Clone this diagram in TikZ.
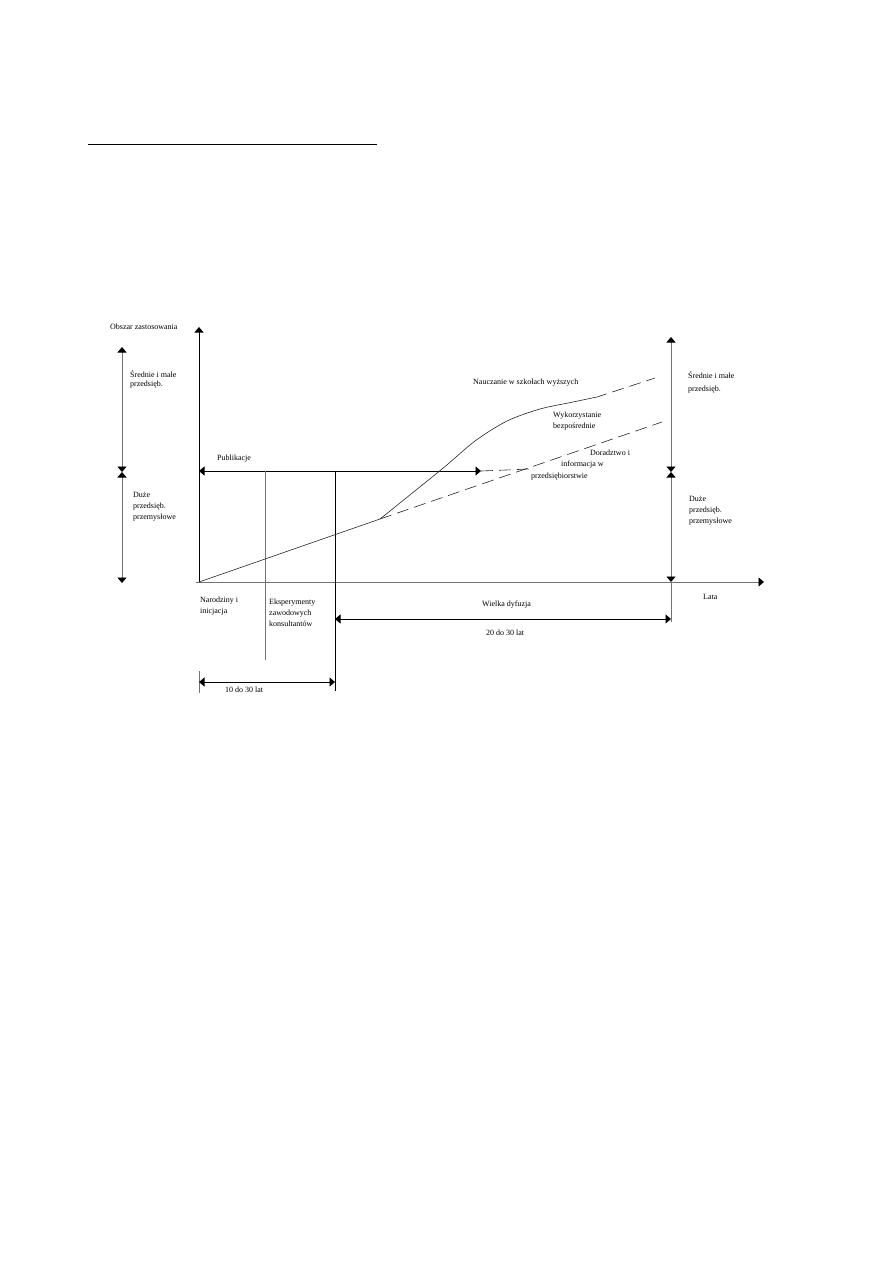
\documentclass[tikz,border=0pt]{standalone}
\usepackage{fontspec}
\setmainfont{Liberation Serif}
\usetikzlibrary{arrows.meta}
\begin{document}
\begin{tikzpicture}[x=1pt,y=-1pt,
  lbl/.style={anchor=west,inner sep=0pt,font=\fontsize{8}{11}\selectfont,align=left},
  tip/.style={-{Triangle[length=5.5pt,width=9pt,color=black]}},
  dtip/.style={{Triangle[length=5.5pt,width=9pt,color=black]}-{Triangle[length=5.5pt,width=9pt,color=black]}},
  grayline/.style={draw=black!55,line width=0.8pt},
  blackline/.style={draw=black,line width=0.9pt},
  thin/.style={draw=black!85,line width=0.6pt},
  dashline/.style={draw=black!85,line width=0.6pt,dash pattern=on 12pt off 6pt}]
\useasboundingbox (0,0) rectangle (893,1263);
% top rule
\coordinate (r1) at (88,144);
\coordinate (r2) at (377,144);
\draw[line width=1pt] (r1) -- (r2);
% axes
\coordinate (O) at (199,582);
\coordinate (ytop) at (199,327);
\coordinate (xend) at (764,582);
\draw[blackline,tip] (O) -- (ytop);
\draw[grayline,tip] (196,582) -- (xend);
% left double arrows
\coordinate (la) at (122,347);
\coordinate (lm) at (122,472);
\coordinate (lb) at (122,583);
\draw[grayline,dtip] (la) -- (lm);
\draw[grayline,dtip] (lm) -- (lb);
% right double arrows
\coordinate (ra) at (671,337);
\coordinate (rm) at (671,472);
\coordinate (rb) at (671,582);
\coordinate (rbot) at (671,622);
\draw[grayline,dtip] (ra) -- (rm);
\draw[grayline,dtip] (rm) -- (rb);
\draw[grayline] (rb) -- (rbot);
% Publikacje arrow
\coordinate (pa) at (199,471);
\coordinate (pb) at (481,471);
\coordinate (pc) at (530,469);
\draw[blackline,dtip] (pa) -- (pb);
\draw[dashline] (pb) -- (pc);
% verticals
\coordinate (g1) at (265,471);
\coordinate (g2) at (265,660);
\draw[grayline] (g1) -- (g2);
\coordinate (k1) at (335,471);
\coordinate (k2) at (335,691);
\draw[blackline] (k1) -- (k2);
% curves
\coordinate (split) at (380,519);
\coordinate (solidend) at (597,397);
\coordinate (nend) at (655,378);
\coordinate (dend) at (662,422);
\draw[thin] (O) -- (split);
\draw[thin] plot[smooth,tension=0.5] coordinates {(380,519) (442,469) (475,441) (507,421) (540,409) (573,402) (597,397)};
\draw[dashline,dash phase=2pt] (solidend) -- (nend);
\draw[dashline] (split) -- (dend);
% bottom arrows
\coordinate (w1) at (335,619);
\coordinate (w2) at (671,619);
\draw[blackline,dtip] (w1) -- (w2);
\coordinate (t1) at (199,682);
\coordinate (t2) at (335,682);
\coordinate (tk1) at (199,671);
\coordinate (tk2) at (199,693);
\draw[grayline] (tk1) -- (tk2);
\draw[blackline,dtip] (t1) -- (t2);
% labels
\node[lbl] (obszar) at (110,327) {Obszar zastosowania};
\node[lbl,anchor=north west] (lsm) at (130,370) {Średnie i małe\\[-1.5pt]przedsięb.};
\node[lbl,anchor=north west] (ldu) at (133,492) {Duże\\przedsięb.\\przemysłowe};
\node[lbl,anchor=north west] (rsm) at (688,371) {Średnie i małe\\[2pt]przedsięb.};
\node[lbl,anchor=north west] (rdu) at (689,496) {Duże\\przedsięb.\\przemysłowe};
\node[lbl] (lata) at (703,597) {Lata};
\node[lbl] (publ) at (217,459) {Publikacje};
\node[lbl] (nauk) at (473,383) {Nauczanie w szkołach wyższych};
\node[lbl,anchor=north west] (wyk) at (553,412) {Wykorzystanie\\bezpośrednie};
\node[lbl] (dor1) at (590,453) {Doradztwo i};
\node[lbl] (dor2) at (561,465) {informacja w};
\node[lbl] (dor3) at (531,477) {przedsiębiorstwie};
\node[lbl,anchor=north west] (nar) at (200,597) {Narodziny i\\inicjacja};
\node[lbl,anchor=north west] (eks) at (269,599) {Eksperymenty\\zawodowych\\konsultantów};
\node[lbl] (wiel) at (482,605) {Wielka dyfuzja};
\node[lbl] (l2030) at (486,633) {20 do 30 lat};
\node[lbl] (l1030) at (225,690) {10 do 30 lat};
\end{tikzpicture}
\end{document}
